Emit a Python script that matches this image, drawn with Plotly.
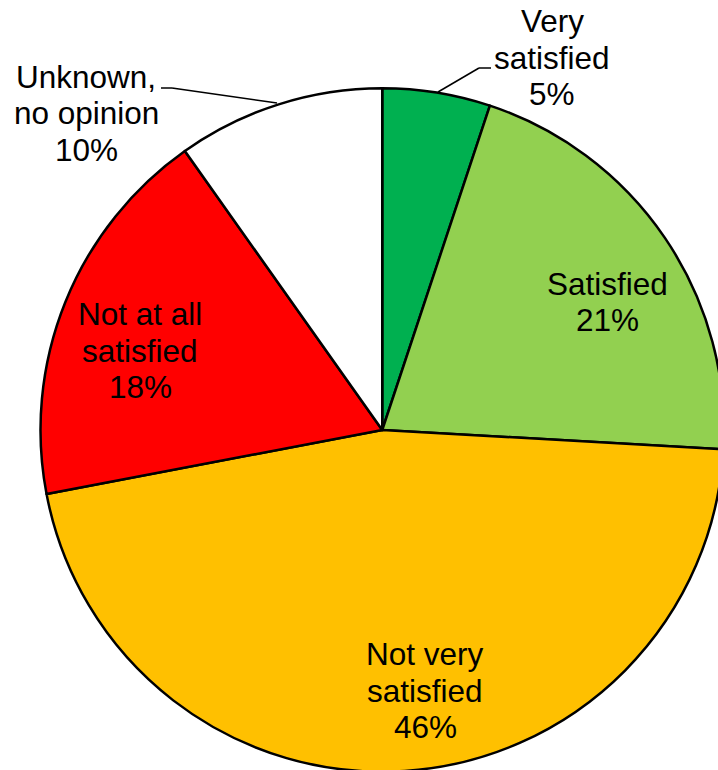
import plotly.graph_objects as go

# figure is slightly larger than the window so the pie runs off the right/bottom edge like the original
W, H = 724, 772

labels = ["Very satisfied", "Satisfied", "Not very satisfied", "Not at all satisfied", "Unknown, no opinion"]
label_lines = [["Very", "satisfied"], ["Satisfied"], ["Not very", "satisfied"],
               ["Not at all", "satisfied"], ["Unknown,", "no opinion"]]
values = [5.1, 20.8, 46.1, 18.2, 9.8]
shown_pct = ["5%", "21%", "46%", "18%", "10%"]
colors = ["#00B050", "#92D050", "#FFC000", "#FF0000", "#FFFFFF"]

# x centre and first-line y centre of each label, in pixels from the top-left
label_pos = [(552, 21), (607, 284), (425, 654), (140, 314), (86, 77)]
LINE_STEP = 36.5

fig = go.Figure(go.Pie(
    labels=labels,
    values=values,
    sort=False,
    direction="clockwise",
    rotation=0,
    marker=dict(colors=colors, line=dict(color="black", width=2.5)),
    textinfo="none",
    hoverinfo="label+percent",
    domain=dict(x=[40.5 / W, 1.0], y=[0.0, (H - 88) / H]),
))

for lines, pct, (px, py) in zip(label_lines, shown_pct, label_pos):
    for i, line in enumerate(lines + [pct]):
        fig.add_annotation(
            x=px / W, y=1 - (py + i * LINE_STEP) / H, xref="paper", yref="paper",
            text=line, showarrow=False,
            xanchor="center", yanchor="middle",
            font=dict(family="Liberation Sans, Arial", size=31.5, color="black"),
        )

# leader lines for the two outside labels
leaders = [
    [(438, 92), (479, 68), (491, 68)],
    [(277, 103), (172, 88), (161, 88)],
]
for pts in leaders:
    for (x0, y0), (x1, y1) in zip(pts[:-1], pts[1:]):
        fig.add_shape(
            type="line", xref="paper", yref="paper",
            x0=x0 / W, y0=1 - y0 / H, x1=x1 / W, y1=1 - y1 / H,
            line=dict(color="black", width=1.5),
        )

fig.update_layout(
    width=W, height=H,
    margin=dict(l=0, r=0, t=0, b=0),
    showlegend=False,
    paper_bgcolor="white",
    plot_bgcolor="white",
)

fig.write_html(
    "out.html",
    config={"displayModeBar": False},
    post_script="document.body.style.margin='0';document.body.style.overflow='hidden';",
)
